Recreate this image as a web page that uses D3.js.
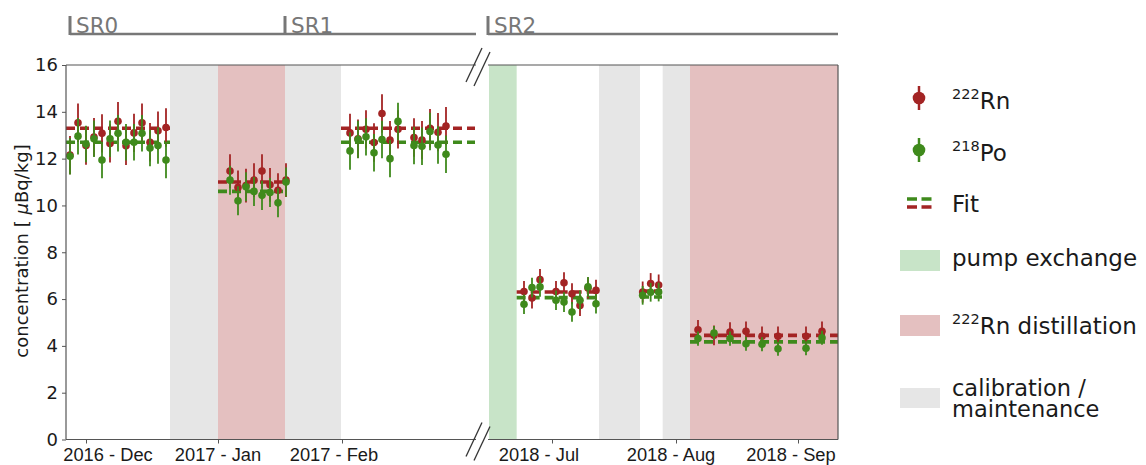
<!DOCTYPE html>
<html><head><meta charset="utf-8">
<script src="https://cdn.jsdelivr.net/npm/d3@7"></script>
<style>body{margin:0;background:#fff}svg{display:block}</style>
</head><body>
<script>
// ---------------- data ----------------
const sr0Dates = ["2016-11-25","2016-11-27","2016-11-29","2016-12-01","2016-12-03","2016-12-05","2016-12-07","2016-12-09","2016-12-11","2016-12-13","2016-12-15","2016-12-17","2016-12-19"];
const sr0Rn = [12.15,13.53,12.56,12.92,13.08,12.65,13.6,12.55,13.1,13.53,12.7,13.19,13.33];
const sr0Po = [12.1,12.96,12.62,12.85,11.94,12.85,13.08,12.7,12.7,13.08,12.45,12.56,11.94];

const janDates = ["2017-01-04","2017-01-06","2017-01-08","2017-01-10","2017-01-12","2017-01-14","2017-01-16","2017-01-18"];
const janRn = [11.47,10.77,10.85,11.08,11.47,10.88,10.65,11.08];
const janPo = [11.08,10.2,10.8,10.6,10.43,10.55,10.11,11.0];

const sr1Dates = ["2017-02-03","2017-02-05","2017-02-07","2017-02-09","2017-02-11","2017-02-13","2017-02-15","2017-02-19","2017-02-21","2017-02-23","2017-02-25","2017-02-27"];
const sr1Rn = [13.1,12.85,13.25,12.69,13.93,12.79,13.25,12.9,12.79,13.3,13.13,13.39];
const sr1Po = [12.33,12.82,12.93,12.25,12.82,12.0,13.59,12.56,12.53,13.16,12.58,12.19];

const julDates = ["2018-06-24","2018-06-26","2018-06-28","2018-07-02","2018-07-04","2018-07-06","2018-07-08","2018-07-10","2018-07-12"];
const julRn = [6.32,6.05,6.83,6.32,6.7,6.23,5.73,6.47,6.37];
const julPo = [5.78,6.49,6.52,5.95,5.87,5.45,5.95,6.52,5.8];

const augDates = ["2018-07-23T16:00","2018-07-25T16:00","2018-07-27T16:00"];
const augRn = [6.3,6.66,6.6];
const augPo = [6.16,6.29,6.3];

const sepDates = ["2018-08-06T12:00","2018-08-10T12:00","2018-08-14T12:00","2018-08-18T12:00","2018-08-22T12:00","2018-08-26T12:00","2018-09-02T12:00","2018-09-06T12:00"];
const sepRn = [4.69,4.45,4.59,4.62,4.41,4.41,4.41,4.62];
const sepPo = [4.31,4.55,4.31,4.09,4.07,3.88,3.9,4.35];

// uncertainties per period [Rn, Po]
const periodErrors = {sr0:[0.82,0.78], jan:[0.72,0.62], sr1:[0.82,0.8], jul:[0.45,0.42], aug:[0.45,0.4], sep:[0.42,0.3]};

// fit levels: [start, end, Rn, Po]
const fitsLeft = [["2016-11-24","2016-12-20",13.3,12.7],["2017-01-01","2017-01-17T18:00",11.0,10.6],["2017-01-31T18:00","2017-03-06T06:00",13.3,12.7]];
const fitsRight = [["2018-06-22T04:00","2018-07-12T18:00",6.3,6.06],["2018-07-23","2018-07-28T12:00",6.34,6.09],["2018-08-04T12:00","2018-09-10T12:00",4.45,4.17]];

// shaded periods: [start, end, kind]
const bandsLeft = [["2016-12-20","2017-01-01","cal"],["2017-01-01","2017-01-17T18:00","dist"],["2017-01-17T18:00","2017-01-31T18:00","cal"]];
const bandsRight = [["2018-06-15T06:00","2018-06-22T04:00","pump"],["2018-07-12T18:00","2018-07-23","cal"],["2018-07-28T16:00","2018-08-04T12:00","cal"],["2018-08-04T12:00","2018-09-10T12:00","dist"]];

const leftDomain = ["2016-11-24","2017-03-06T12:00"];
const rightDomain = ["2018-06-15","2018-09-10T12:00"];

const leftTickDates = ["2016-11-29","2017-01-01","2017-02-01"];
const leftLabelDates = ["2016-12-04T12:00","2017-01-01","2017-01-30"];
const leftTickLabels = ["2016 - Dec","2017 - Jan","2017 - Feb"];
const rightTickDates = ["2018-07-01","2018-08-01","2018-08-31T12:00"];
const rightLabelDates = ["2018-06-27T18:00","2018-07-30T18:00","2018-08-29T18:00"];
const rightTickLabels = ["2018 - Jul","2018 - Aug","2018 - Sep"];

const yTicks = [0,2,4,6,8,10,12,14,16];
const runLabels = ["SR0","SR1","SR2"];
const runStarts = [["left","2016-11-25"],["left","2017-01-17T18:00"],["right","2018-06-15"]];

// ---------------- drawing ----------------
const pd = s => new Date(s.length === 10 ? s + "T00:00:00Z" : s + ":00Z");
const W = 1146, H = 465, FONT = "DejaVu Sans";
const C = {rn:"#a32424", po:"#3f8a1c", cal:"#e6e6e6", dist:"#e4c0c0", pump:"#c8e4c8", ink:"#1a1a1a", spine:"#555", sr:"#777"};

const svg = d3.select("body").append("svg").attr("width",W).attr("height",H).style("font-family",FONT);
svg.append("rect").attr("width",W).attr("height",H).attr("fill","#fff");

const xL = d3.scaleUtc().domain(leftDomain.map(pd)).range([66,476]);
const xR = d3.scaleUtc().domain(rightDomain.map(pd)).range([488,838]);
const y = d3.scaleLinear().domain([0,16]).range([439.5,65]);

// bands
function drawBands(bands, x){
  svg.append("g").selectAll("rect").data(bands).join("rect")
    .attr("x", d=>x(pd(d[0]))).attr("width", d=>x(pd(d[1]))-x(pd(d[0])))
    .attr("y", y(16)).attr("height", y(0)-y(16)).attr("fill", d=>C[d[2]]);
}
drawBands(bandsLeft, xL); drawBands(bandsRight, xR);

// fits
function drawFits(fits, x){
  const g = svg.append("g");
  [[2,C.rn],[3,C.po]].forEach(([k,col])=>{
    g.selectAll(null).data(fits).join("line")
      .attr("x1", d=>x(pd(d[0]))).attr("x2", d=>x(pd(d[1])))
      .attr("y1", d=>y(d[k])).attr("y2", d=>y(d[k]))
      .attr("stroke", col).attr("stroke-width",3.6).attr("stroke-dasharray","9,5");
  });
}
drawFits(fitsLeft, xL); drawFits(fitsRight, xR);

// points with error bars
function drawSeries(dates, vals, err, x, col){
  const g = svg.append("g");
  const data = dates.map((d,i)=>({x:x(pd(d)), v:vals[i]}));
  g.selectAll("line").data(data).join("line")
    .attr("x1",d=>d.x).attr("x2",d=>d.x)
    .attr("y1",d=>y(d.v-err)).attr("y2",d=>y(d.v+err))
    .attr("stroke",col).attr("stroke-width",1.8);
  g.selectAll("circle").data(data).join("circle")
    .attr("cx",d=>d.x).attr("cy",d=>y(d.v)).attr("r",3.8).attr("fill",col);
}
const periods = [
  [sr0Dates,sr0Rn,sr0Po,periodErrors.sr0,xL],
  [janDates,janRn,janPo,periodErrors.jan,xL],
  [sr1Dates,sr1Rn,sr1Po,periodErrors.sr1,xL],
  [julDates,julRn,julPo,periodErrors.jul,xR],
  [augDates,augRn,augPo,periodErrors.aug,xR],
  [sepDates,sepRn,sepPo,periodErrors.sep,xR]
];
periods.forEach(p=>drawSeries(p[0],p[1],p[3][0],p[4],C.rn));
periods.forEach(p=>drawSeries(p[0],p[2],p[3][1],p[4],C.po));

// spines
const sp = svg.append("g").attr("stroke",C.spine).attr("stroke-width",1.2).attr("fill","none");
[xL,xR].forEach(x=>{
  const [a,b] = x.range();
  sp.append("line").attr("x1",a).attr("x2",b).attr("y1",y(16)).attr("y2",y(16));
  sp.append("line").attr("x1",a).attr("x2",b).attr("y1",y(0)).attr("y2",y(0));
});
sp.append("line").attr("x1",66).attr("x2",66).attr("y1",y(0)).attr("y2",y(16));
sp.append("line").attr("x1",838).attr("x2",838).attr("y1",y(0)).attr("y2",y(16));

// break marks
const br = svg.append("g").attr("stroke","#333").attr("stroke-width",1.3);
[y(16), y(0)].forEach(yy=>{
  br.append("line").attr("x1",466).attr("y1",yy+17).attr("x2",482).attr("y2",yy-17);
  br.append("line").attr("x1",474).attr("y1",yy+21).attr("x2",490).attr("y2",yy-13);
});

// y axis
const ya = svg.append("g").attr("transform","translate(66,0)")
  .call(d3.axisLeft(y).tickValues(yTicks).tickSize(4).tickPadding(4).tickFormat(d3.format("d")));
ya.select(".domain").remove();
ya.selectAll(".tick line").attr("stroke",C.spine);
ya.selectAll(".tick text").attr("font-size",18).attr("font-family",FONT).attr("fill",C.ink);

svg.append("text").attr("transform","translate(28,251) rotate(-90)").attr("text-anchor","middle")
  .attr("font-size",18).attr("fill",C.ink)
  .call(t=>{t.append("tspan").text("concentration [ ");t.append("tspan").attr("font-style","italic").text("μ");t.append("tspan").text("Bq/kg]");});

// x axes
function drawX(x, tickDates, labelDates, labels){
  const g = svg.append("g").attr("transform",`translate(0,${y(0)})`);
  g.call(d3.axisBottom(x).tickValues(tickDates.map(pd)).tickSize(4).tickFormat(""));
  g.select(".domain").remove();
  g.selectAll(".tick line").attr("stroke",C.spine);
  g.selectAll("text.lbl").data(labels).join("text").attr("class","lbl")
    .attr("x",(d,i)=>x(pd(labelDates[i]))).attr("y",21.5).attr("text-anchor","middle")
    .attr("font-size",18.3).attr("fill",C.ink).text(d=>d);
}
drawX(xL, leftTickDates, leftLabelDates, leftTickLabels);
drawX(xR, rightTickDates, rightLabelDates, rightTickLabels);

// science-run bar
const srg = svg.append("g");
srg.append("line").attr("x1",xL(pd(runStarts[0][1]))).attr("x2",476).attr("y1",34).attr("y2",34).attr("stroke",C.sr).attr("stroke-width",2.6);
srg.append("line").attr("x1",488).attr("x2",838).attr("y1",34).attr("y2",34).attr("stroke",C.sr).attr("stroke-width",2.6);
runStarts.forEach((r,i)=>{
  const x = (r[0]==="left"?xL:xR)(pd(r[1]));
  srg.append("line").attr("x1",x).attr("x2",x).attr("y1",16).attr("y2",35).attr("stroke",C.sr).attr("stroke-width",3);
  srg.append("text").attr("x",x+6).attr("y",32.5).attr("font-size",21.5).attr("fill",C.sr).text(runLabels[i]);
});

// legend
const lg = svg.append("g").attr("fill",C.ink);
[[98,C.rn,"222","Rn"],[150,C.po,"218","Po"]].forEach(([yy,col,sup,name])=>{
  lg.append("line").attr("x1",919).attr("x2",919).attr("y1",yy-12).attr("y2",yy+12).attr("stroke",col).attr("stroke-width",2.5);
  lg.append("circle").attr("cx",919).attr("cy",yy).attr("r",6.3).attr("fill",col);
  const t = lg.append("text").attr("x",952).attr("y",yy+11).attr("font-size",23);
  t.append("tspan").attr("font-size",14.5).attr("dy",-10.5).text(sup);
  t.append("tspan").attr("dy",10.5).text(name);
});
[[199,C.po],[207,C.rn]].forEach(([yy,col])=>{
  lg.append("line").attr("x1",907).attr("x2",932).attr("y1",yy).attr("y2",yy).attr("stroke",col).attr("stroke-width",3.3).attr("stroke-dasharray","10,4.5");
});
lg.append("text").attr("x",952).attr("y",211.5).attr("font-size",23).text("Fit");
lg.append("rect").attr("x",900).attr("y",250).attr("width",40).attr("height",21).attr("fill",C.pump);
lg.append("text").attr("x",952).attr("y",266).attr("font-size",23).text("pump exchange");
lg.append("rect").attr("x",900).attr("y",315).attr("width",40).attr("height",21).attr("fill",C.dist);
{
  const t = lg.append("text").attr("x",952).attr("y",334).attr("font-size",23);
  t.append("tspan").attr("font-size",14.5).attr("dy",-10.5).text("222");
  t.append("tspan").attr("dy",10.5).text("Rn distillation");
}
lg.append("rect").attr("x",900).attr("y",388).attr("width",40).attr("height",20).attr("fill",C.cal);
lg.append("text").attr("x",952).attr("y",395.5).attr("font-size",22.5).text("calibration /");
lg.append("text").attr("x",952).attr("y",417).attr("font-size",22.5).text("maintenance");
</script>
</body></html>
